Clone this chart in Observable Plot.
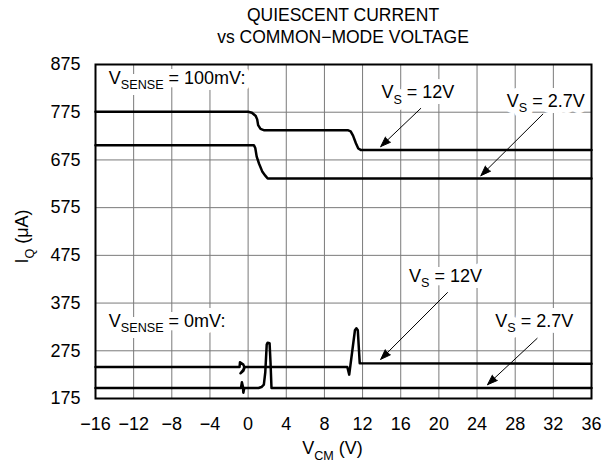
<!DOCTYPE html>
<html><head><meta charset="utf-8">
<script src="https://cdn.jsdelivr.net/npm/d3@7"></script>
<script src="https://cdn.jsdelivr.net/npm/@observablehq/plot@0.6"></script>
<style>
body{margin:0;background:#fff;font-family:"Liberation Sans",Arial,Helvetica,sans-serif;}
#title{padding-top:4px;padding-left:73px;width:540px;text-align:center;font-size:17.5px;line-height:22px;height:44px;color:#000;}
</style></head><body>
<div id="title">QUIESCENT CURRENT<br>vs COMMON−MODE VOLTAGE</div>
<div id="chart"></div>
<script>
// Tick values
const xTicks = [-16, -12, -8, -4, 0, 4, 8, 12, 16, 20, 24, 28, 32, 36];
const yTicks = [175, 275, 375, 475, 575, 675, 775, 875];

// V_SENSE = 100 mV, V_S = 12 V
const vcm100_12 = [-16, 0, 0.4, 0.8, 0.95, 1.05, 1.3, 1.7, 10.5, 10.75, 11.0, 11.3, 11.55, 11.8, 36];
const iq100_12  = [776, 776, 774, 767, 760, 748, 740, 737, 737, 735, 726, 710, 699, 696, 696];
// V_SENSE = 100 mV, V_S = 2.7 V
const vcm100_27 = [-16, 0.6, 0.75, 0.9, 1.15, 1.5, 1.8, 2.05, 36];
const iq100_27  = [706, 706, 700, 682, 667, 650, 642, 636, 636];
// V_SENSE = 0 mV, V_S = 12 V
const vcm0_12 = [-16, -0.9, -0.85, -0.5, -0.4, -0.5, -0.8, -0.5, -0.35, 10.4, 10.6, 11.2, 11.35, 11.5, 11.7, 36];
const iq0_12  = [241, 241, 251, 246, 241, 235, 228, 233, 241, 241, 225, 318, 322, 318, 249, 248];
// V_SENSE = 0 mV, V_S = 2.7 V
const vcm0_27 = [-16, -0.75, -0.65, -0.55, -0.5, -0.4, 1.1, 1.4, 1.65, 1.8, 1.95, 2.05, 2.25, 2.35, 2.45, 36];
const iq0_27  = [197, 197, 209, 200, 187, 197, 197, 199, 204, 230, 288, 292, 291, 250, 197, 197];

const seriesNames = ["100mV 12V", "100mV 2.7V", "0mV 12V", "0mV 2.7V"];
const seriesX = [vcm100_12, vcm100_27, vcm0_12, vcm0_27];
const seriesY = [iq100_12, iq100_27, iq0_12, iq0_27];

// Annotations (data coordinates)
const senseText = ["V_{SENSE} = 100mV:", "V_{SENSE} = 0mV:"];
const senseX = [-14.6, -14.6];
const senseY = [846, 337];
const vsText = ["V_{S} = 12V", "V_{S} = 2.7V", "V_{S} = 12V", "V_{S} = 2.7V"];
const vsX = [17.8, 31.2, 20.7, 30.0];
const vsY = [816, 799, 432, 337];
const arrowX1 = [18.1, 30.9, 20.9, 30.3];
const arrowY1 = [783, 771, 397, 301];
const arrowX2 = [13.9, 24.4, 13.9, 25.1];
const arrowY2 = [703, 642, 257, 204];

const rows = seriesNames.flatMap((s, k) => seriesX[k].map((v, i) => ({series: s, vcm: v, iq: seriesY[k][i]})));
const senseRows = senseText.map((t, i) => ({text: t, x: senseX[i], y: senseY[i]}));
const vsRows = vsText.map((t, i) => ({text: t, x: vsX[i], y: vsY[i]}));
const arrowRows = arrowX1.map((v, i) => ({x1: v, y1: arrowY1[i], x2: arrowX2[i], y2: arrowY2[i]}));

const FS = 18;
const chart = Plot.plot({
  width: 613, height: 426,
  marginLeft: 95, marginRight: 22, marginTop: 16, marginBottom: 76,
  style: {fontFamily: "Liberation Sans, Arial, sans-serif", fontSize: FS + "px", color: "#000", background: "#fff", overflow: "visible"},
  x: {domain: [-16, 36], ticks: xTicks, tickSize: 0, tickPadding: 19, label: null, tickFormat: d3.format("d")},
  y: {domain: [175, 875], ticks: yTicks, tickSize: 0, tickPadding: 15, label: null, tickFormat: d3.format("d")},
  marks: [
    Plot.ruleX(xTicks, {stroke: "#7a7a7a", strokeWidth: 1}),
    Plot.ruleY(yTicks, {stroke: "#7a7a7a", strokeWidth: 1}),
    // white boxes behind the labels
    Plot.text(senseRows, {x: "x", y: "y", text: "text", textAnchor: "start", fill: "#fff", stroke: "#fff", strokeWidth: 12, fontSize: FS}),
    Plot.text(vsRows, {x: "x", y: "y", text: "text", textAnchor: "middle", fill: "#fff", stroke: "#fff", strokeWidth: 12, fontSize: FS}),
    Plot.text(senseRows, {x: "x", y: "y", text: "text", textAnchor: "start", fill: "#000", fontSize: FS}),
    Plot.text(vsRows, {x: "x", y: "y", text: "text", textAnchor: "middle", fill: "#000", fontSize: FS}),
    Plot.line(rows, {x: "vcm", y: "iq", z: "series", stroke: "#000", strokeWidth: 2.5, curve: "linear"}),
    Plot.arrow(arrowRows, {x1: "x1", y1: "y1", x2: "x2", y2: "y2", stroke: "#000", fill: "#000", strokeWidth: 1, headLength: 16, headAngle: 40}),
    Plot.frame({stroke: "#000", strokeWidth: 2}),
    Plot.text(["V_{CM} (V)"], {frameAnchor: "bottom", text: d => d, lineAnchor: "middle", textAnchor: "middle", dy: 50, dx: -11, fontSize: FS}),
    Plot.text(["I_{Q} (μA)"], {frameAnchor: "left", text: d => d, rotate: -90, textAnchor: "middle", lineAnchor: "middle", dx: -73, dy: 5, fontSize: FS})
  ]
});
document.getElementById("chart").appendChild(chart);

// Turn "_{...}" into subscript tspans
const NS = "http://www.w3.org/2000/svg";
chart.querySelectorAll("text").forEach(t => {
  const s = t.textContent;
  if (!s.includes("_{")) return;
  const fs = parseFloat(getComputedStyle(t).fontSize) || FS;
  while (t.firstChild) t.removeChild(t.firstChild);
  let shifted = false;
  s.split(/(_\{[^}]*\})/).forEach(p => {
    if (!p) return;
    const ts = document.createElementNS(NS, "tspan");
    if (p.startsWith("_{")) {
      ts.textContent = p.slice(2, -1);
      ts.setAttribute("font-size", fs * 0.7);
      ts.setAttribute("dy", fs * 0.3);
      shifted = true;
    } else {
      ts.textContent = p;
      if (shifted) { ts.setAttribute("dy", -fs * 0.3); shifted = false; }
    }
    t.appendChild(ts);
  });
});
</script></body></html>
